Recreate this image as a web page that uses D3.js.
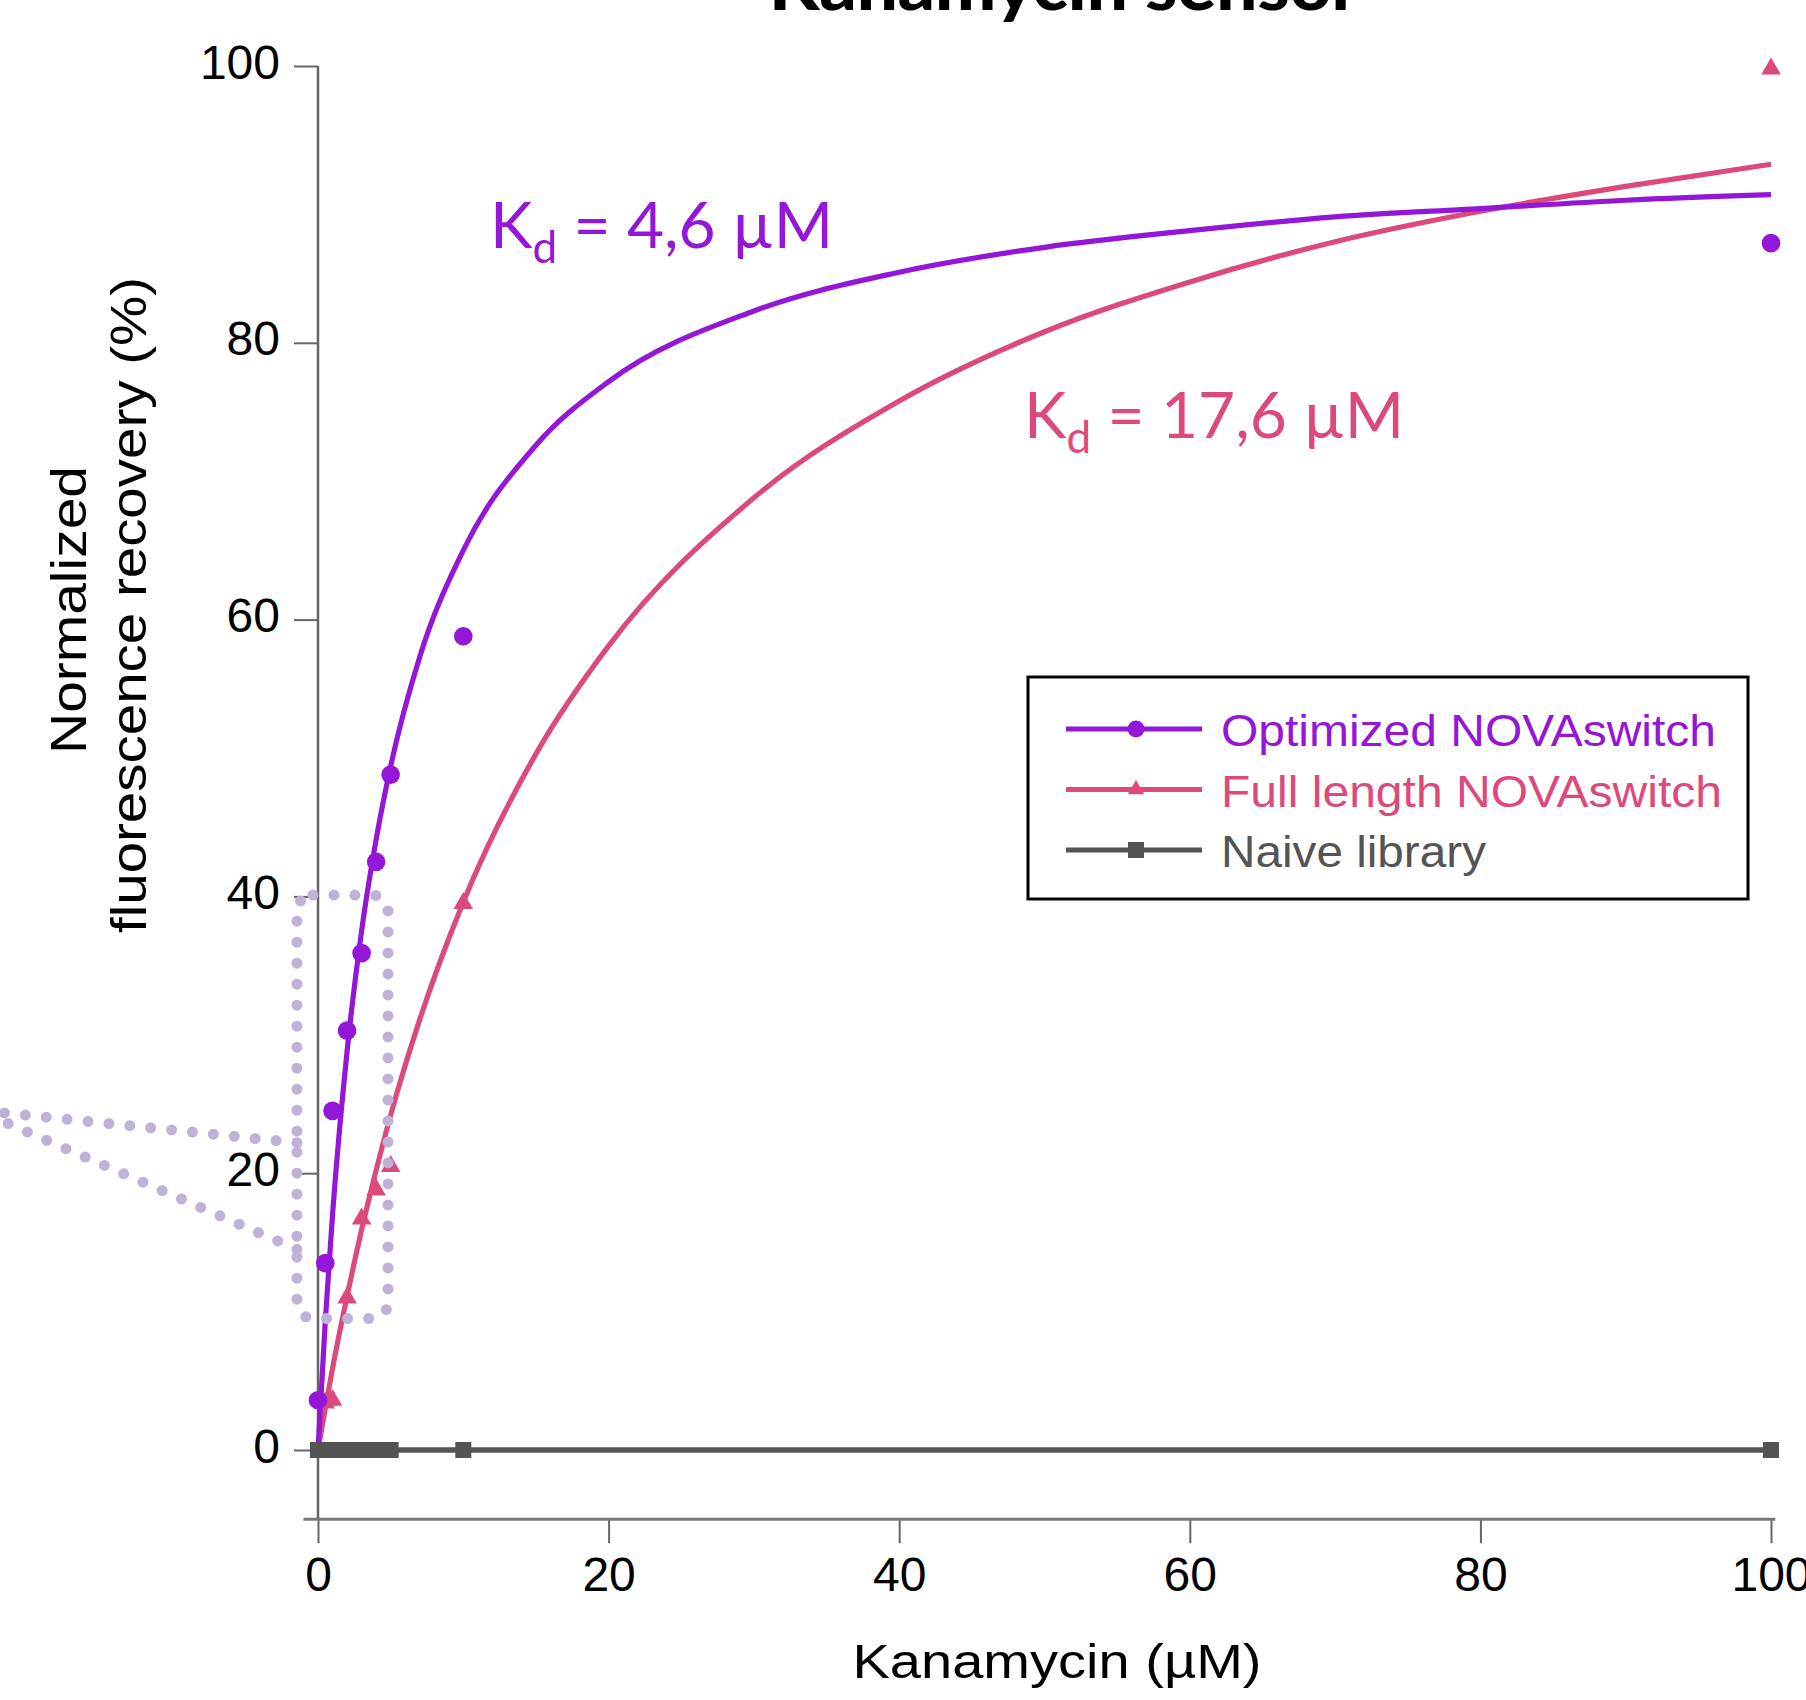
<!DOCTYPE html>
<html>
<head>
<meta charset="utf-8">
<script src="https://cdn.jsdelivr.net/npm/d3@7"></script>
<style>
  body { margin: 0; background: #fff; }
  svg { display: block; }
  text { font-family: "Liberation Sans", Arial, sans-serif; }
</style>
</head>
<body>
<div id="chart"></div>
<script>
'use strict';

// concentrations (µM) and measured recovery (%)
const optimizedConc = [0, 0.5, 1, 2, 3, 4, 5, 10, 100];
const optimizedValues = [3.6, 13.5, 24.5, 30.3, 35.9, 42.5, 48.8, 58.8, 87.2];

const fullLengthConc = [0.5, 1, 2, 3, 4, 5, 10, 100];
const fullLengthValues = [3.4, 3.6, 11.0, 16.7, 18.8, 20.5, 39.5, 99.8];

const naiveConc = [0, 0.5, 1, 2, 3, 4, 5, 10, 100];
const naiveValues = [0, 0, 0, 0, 0, 0, 0, 0, 0];

// fitted binding curves
const fitConc = [0, 0.5, 1, 2, 3, 4, 5, 7, 10, 15, 20, 30, 40, 50, 60, 70, 80, 90, 100];
const optimizedFit = [0, 9.3, 17.0, 28.8, 37.5, 44.1, 49.4, 57.3, 65.0, 72.6, 77.2, 82.3, 85.1, 86.9, 88.1, 89.1, 89.7, 90.3, 90.7];
const fullLengthFit = [0, 3.0, 5.9, 11.1, 15.9, 20.2, 24.2, 31.1, 39.6, 50.3, 58.1, 68.8, 75.8, 80.8, 84.4, 87.3, 89.5, 91.3, 92.9];

// ticks
const xMajorTicks = [0, 20, 40, 60, 80, 100];
const xMinorTicks = [5, 10, 15, 25, 30, 35, 45, 50, 55, 65, 70, 75, 85, 90, 95];
const yMajorTicks = [0, 20, 40, 60, 80, 100];
const yMinorTicks = [5, 10, 15, 25, 30, 35, 45, 50, 55, 65, 70, 75, 85, 90, 95];

const seriesNames = ['Optimized NOVAswitch', 'Full length NOVAswitch', 'Naive library'];
const kdLabels = ['4,6 µM', '17,6 µM'];

const purple = '#9416d6';
const pink = '#dc4a7b';
const grey = '#545454';
const lavender = '#bfb1d8';

const width = 1806;
const height = 1700;

const x = d3.scaleLinear().domain([0, 100]).range([318, 1771]);
const y = d3.scaleLinear().domain([0, 100]).range([1450, 66]);
const yBottom = -5;

const svg = d3.select('#chart').append('svg')
  .attr('width', width)
  .attr('height', height);

// title (cut at the top in the original)
svg.append('text')
  .attr('x', 1064)
  .attr('y', 10)
  .attr('text-anchor', 'middle')
  .attr('textLength', 590)
  .attr('lengthAdjust', 'spacingAndGlyphs')
  .style('font-family', 'Lato, sans-serif')
  .style('font-weight', 900)
  .style('font-size', '68px')
  .text('Kanamycin sensor');

// y axis
const yAxisG = svg.append('g')
  .attr('transform', `translate(${x(0)}, 0)`);

yAxisG.call(d3.axisLeft(y).tickValues(yMinorTicks).tickSize(12).tickFormat(''));
yAxisG.call(d3.axisLeft(y).tickValues(yMajorTicks).tickSize(24).tickPadding(14));
yAxisG.selectAll('.domain').remove();
yAxisG.append('line')
  .attr('y1', y(100))
  .attr('y2', y(yBottom))
  .attr('stroke', '#666')
  .attr('stroke-width', 2.5);
yAxisG.selectAll('.tick line').attr('stroke', '#666').attr('stroke-width', 2);
yAxisG.selectAll('.tick text')
  .attr('dy', '0.25em')
  .attr('fill', '#000')
  .style('font-size', '48px');

// x axis
const xAxisG = svg.append('g')
  .attr('transform', `translate(0, ${y(yBottom)})`);

xAxisG.call(d3.axisBottom(x).tickValues(xMinorTicks).tickSize(12).tickFormat(''));
xAxisG.call(d3.axisBottom(x).tickValues(xMajorTicks).tickSize(24).tickPadding(14));
xAxisG.selectAll('.domain').remove();
xAxisG.append('line')
  .attr('x1', x(-1))
  .attr('x2', x(100.3))
  .attr('stroke', '#777')
  .attr('stroke-width', 3);
xAxisG.selectAll('.tick line').attr('stroke', '#666').attr('stroke-width', 2);
xAxisG.selectAll('.tick text')
  .attr('fill', '#000')
  .style('font-size', '48px');

// axis titles
svg.append('text')
  .attr('x', 1057)
  .attr('y', 1678)
  .attr('text-anchor', 'middle')
  .attr('textLength', 409)
  .attr('lengthAdjust', 'spacingAndGlyphs')
  .style('font-size', '49px')
  .text('Kanamycin (µM)');

svg.append('text')
  .attr('transform', 'translate(86, 610) rotate(-90)')
  .attr('text-anchor', 'middle')
  .attr('textLength', 288)
  .attr('lengthAdjust', 'spacingAndGlyphs')
  .style('font-size', '50px')
  .text('Normalized');

svg.append('text')
  .attr('transform', 'translate(146, 605) rotate(-90)')
  .attr('text-anchor', 'middle')
  .attr('textLength', 656)
  .attr('lengthAdjust', 'spacingAndGlyphs')
  .style('font-size', '50px')
  .text('fluorescence recovery (%)');

// fitted curves
const fitLine = d3.line()
  .x(d => x(d[0]))
  .y(d => y(d[1]))
  .curve(d3.curveMonotoneX);

svg.append('path')
  .datum(d3.zip(fitConc, fullLengthFit))
  .attr('d', fitLine)
  .attr('fill', 'none')
  .attr('stroke', pink)
  .attr('stroke-width', 5.2);

svg.append('path')
  .datum(d3.zip(fitConc, optimizedFit))
  .attr('d', fitLine)
  .attr('fill', 'none')
  .attr('stroke', purple)
  .attr('stroke-width', 5.2);

// naive library: connected line + squares
const naiveData = d3.zip(naiveConc, naiveValues);
svg.append('path')
  .datum(naiveData)
  .attr('d', d3.line().x(d => x(d[0])).y(d => y(d[1])))
  .attr('fill', 'none')
  .attr('stroke', grey)
  .attr('stroke-width', 5.5);

svg.selectAll('.naive')
  .data(naiveData)
  .enter()
  .append('path')
  .attr('class', 'naive')
  .attr('transform', d => `translate(${x(d[0])}, ${y(d[1])})`)
  .attr('d', d3.symbol(d3.symbolSquare, 256))
  .attr('fill', grey);

// full length: triangles
svg.selectAll('.full')
  .data(d3.zip(fullLengthConc, fullLengthValues))
  .enter()
  .append('path')
  .attr('class', 'full')
  .attr('transform', d => `translate(${x(d[0])}, ${y(d[1])})`)
  .attr('d', d3.symbol(d3.symbolTriangle, 165))
  .attr('fill', pink);

// optimized: circles
svg.selectAll('.opt')
  .data(d3.zip(optimizedConc, optimizedValues))
  .enter()
  .append('circle')
  .attr('class', 'opt')
  .attr('cx', d => x(d[0]))
  .attr('cy', d => y(d[1]))
  .attr('r', 9.3)
  .attr('fill', purple);

// dotted zoom box over the low concentration points
const dotted = svg.append('g')
  .attr('fill', 'none')
  .attr('stroke', lavender)
  .attr('stroke-width', 11)
  .attr('stroke-linecap', 'round')
  .attr('stroke-dasharray', '0 21');

dotted.append('rect')
  .attr('x', x(-1.45))
  .attr('y', y(40.1))
  .attr('width', x(4.82) - x(-1.45))
  .attr('height', y(9.5) - y(40.1))
  .attr('rx', 16);

dotted.append('line')
  .attr('x1', x(-1.45)).attr('y1', y(22.2))
  .attr('x2', x(-22)).attr('y2', y(24.4));

dotted.append('line')
  .attr('x1', x(-1.45)).attr('y1', y(14.5))
  .attr('x2', x(-22)).attr('y2', y(23.9));

// Kd annotations
function kdLabel(px, py, color, value) {
  const t = svg.append('text')
    .attr('x', px)
    .attr('y', py)
    .attr('fill', color)
    .style('font-family', 'Lato, sans-serif')
    .style('font-size', '64px');
  t.append('tspan').text('K');
  t.append('tspan')
    .attr('dy', 15)
    .style('font-size', '44px')
    .text('d');
  t.append('tspan')
    .attr('dy', -15)
    .text(' = ' + value);
}
kdLabel(490, 248, purple, kdLabels[0]);
kdLabel(1024, 438, pink, kdLabels[1]);

// legend
const legend = svg.append('g').attr('transform', 'translate(1028, 677)');
legend.append('rect')
  .attr('width', 720)
  .attr('height', 222)
  .attr('fill', '#fff')
  .attr('stroke', '#000')
  .attr('stroke-width', 3);

const legendColors = [purple, pink, grey];
const legendSymbols = [d3.symbolCircle, d3.symbolTriangle, d3.symbolSquare];
const legendSizes = [227, 120, 256];
const legendLengths = [495, 501, 265];

seriesNames.forEach((name, i) => {
  const row = legend.append('g').attr('transform', `translate(0, ${52 + i * 60.5})`);
  row.append('line')
    .attr('x1', 38)
    .attr('x2', 174)
    .attr('stroke', legendColors[i])
    .attr('stroke-width', 4.8);
  row.append('path')
    .attr('transform', 'translate(108, 0)')
    .attr('d', d3.symbol(legendSymbols[i], legendSizes[i]))
    .attr('fill', legendColors[i]);
  row.append('text')
    .attr('x', 193)
    .attr('y', 17)
    .attr('fill', legendColors[i])
    .attr('textLength', legendLengths[i])
    .attr('lengthAdjust', 'spacingAndGlyphs')
    .style('font-size', '45px')
    .text(name);
});
</script>
</body>
</html>
